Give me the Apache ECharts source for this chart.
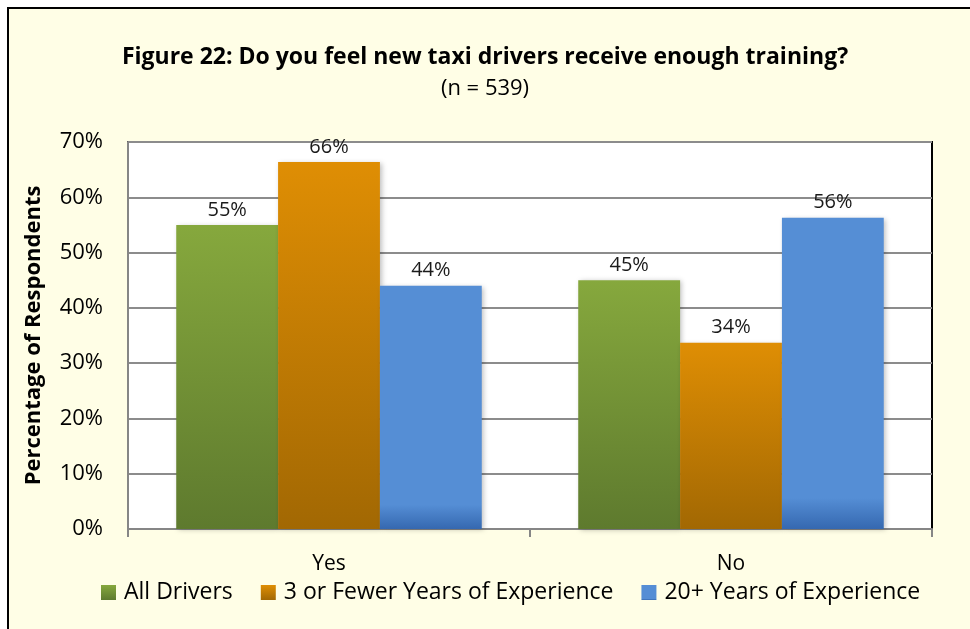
<!DOCTYPE html>
<html>
<head>
<meta charset="utf-8">
<script src="https://cdn.jsdelivr.net/npm/echarts@6/dist/echarts.min.js"></script>
<style>
  html, body { margin: 0; padding: 0; background: #fff; overflow: hidden; }
  #frame { position: absolute; left: 7px; top: 7px; width: 990px; height: 650px;
           border: 2px solid #000; background: #FFFEE6; }
  #chart { position: absolute; left: 0; top: 0; width: 970px; height: 629px; }
</style>
</head>
<body>
<div id="frame"></div>
<div id="chart"></div>
<script>
// Survey answers, percent of respondents
const categories = ['Yes', 'No'];
const seriesNames = ['All Drivers', '3 or Fewer Years of Experience', '20+ Years of Experience'];
const allDrivers = [55, 45];
const fewerYears = [66.4, 33.7];
const twentyPlus = [44, 56.3];
const yTicks = [0, 10, 20, 30, 40, 50, 60, 70];

const FONT = '"Open Sans", "Noto Sans", sans-serif';

function grad(top, bottom, mid) {
  const stops = mid
    ? [{ offset: 0, color: top }, { offset: 0.9, color: mid }, { offset: 1, color: bottom }]
    : [{ offset: 0, color: top }, { offset: 1, color: bottom }];
  return new echarts.graphic.LinearGradient(0, 0, 0, 1, stops);
}

const fills = [
  grad('#86A83D', '#5E7A2E'),
  grad('#DF8E04', '#A26803'),
  grad('#558ED5', '#3568B0', '#558ED5'),
];

function barSeries(name, data, fill) {
  return {
    name, type: 'bar', data,
    barGap: '0%', barCategoryGap: '24%',
    itemStyle: {
      color: fill,
      shadowColor: 'rgba(0,0,0,0.25)', shadowBlur: 5, shadowOffsetX: 2, shadowOffsetY: 1,
    },
    label: {
      show: true, position: 'top', distance: 5,
      formatter: (p) => Math.round(p.value) + '%',
      fontFamily: FONT, fontSize: 20, color: '#1a1a1a',
    },
  };
}

const chart = echarts.init(document.getElementById('chart'), null, { renderer: 'canvas' });
chart.setOption({
  backgroundColor: 'transparent',
  animation: false,
  title: {
    text: 'Figure 22: Do you feel new taxi drivers receive enough training?',
    subtext: '(n = 539)',
    left: 'center', top: 41, itemGap: 9,
    textStyle: { fontFamily: FONT, fontWeight: 'bold', fontSize: 23, color: '#000' },
    subtextStyle: { fontFamily: FONT, fontSize: 22, color: '#000' },
  },
  legend: {
    data: seriesNames,
    left: 96, top: 576,
    icon: 'rect', itemWidth: 15, itemHeight: 15, itemGap: 28,
    textStyle: { fontFamily: FONT, fontSize: 23, color: '#000', padding: [0, 0, 0, 3] },
  },
  grid: {
    left: 128, right: 38, top: 142, bottom: 100,
    show: true, backgroundColor: '#fff', borderColor: '#000', borderWidth: 2,
  },
  xAxis: {
    type: 'category', data: categories,
    axisLine: { lineStyle: { color: '#868686', width: 2 } },
    axisTick: { show: true, length: 8, lineStyle: { color: '#868686', width: 2 } },
    axisLabel: { fontFamily: FONT, fontSize: 21, color: '#000', margin: 25 },
  },
  yAxis: {
    type: 'value', min: yTicks[0], max: yTicks[yTicks.length - 1], interval: 10,
    name: 'Percentage of Respondents', nameLocation: 'middle', nameGap: 83,
    nameTextStyle: { fontFamily: FONT, fontWeight: 'bold', fontSize: 22, color: '#000' },
    axisLine: { show: true, lineStyle: { color: '#868686', width: 2 } },
    axisTick: { show: false },
    axisLabel: { formatter: '{value}%', fontFamily: FONT, fontSize: 22, color: '#000', margin: 25 },
    splitLine: { lineStyle: { color: '#8C8C8C', width: 2 } },
  },
  series: [
    barSeries(seriesNames[0], allDrivers, fills[0]),
    barSeries(seriesNames[1], fewerYears, fills[1]),
    barSeries(seriesNames[2], twentyPlus, fills[2]),
  ],
});
</script>
</body>
</html>
